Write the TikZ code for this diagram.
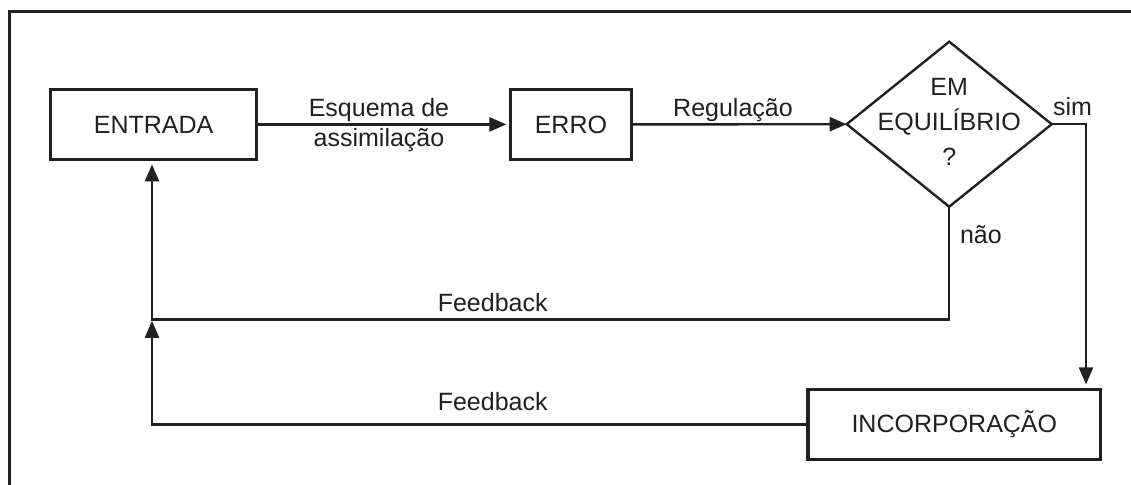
\documentclass[tikz,border=0pt]{standalone}
\usepackage{fontspec}
\setmainfont{Liberation Sans}
\usetikzlibrary{arrows.meta,shapes.geometric}
\definecolor{ink}{HTML}{231F20}
\begin{document}
\begin{tikzpicture}[x=1pt,y=-1pt,
  every node/.style={font=\fontsize{25pt}{30pt}\selectfont, text=ink},
  box/.style={draw=ink, line width=3.1pt, rectangle, minimum height=70pt, inner sep=0pt, outer sep=0pt},
  decision/.style={draw=ink, line width=2.4pt, diamond, minimum width=205pt, minimum height=165pt,
                   inner xsep=-90pt, inner ysep=-60pt, outer sep=0pt, align=center,
                   font=\fontsize{25pt}{35pt}\selectfont},
  conn/.style={draw=ink, line width=2.4pt},
  arr/.style={conn, -{Triangle[length=17pt,width=14pt]}},
  lbl/.style={inner sep=0pt, outer sep=0pt}
]
\useasboundingbox (0,0) rectangle (1131,484);
% frame (open at right and bottom)
\draw[ink, line width=3pt] (9.3,495) -- (9.3,11.7) -- (1140,11.7);

% nodes
\node[box, minimum width=206pt] (entrada) at (153.6,124.4) {ENTRADA};
\node[box, minimum width=121pt] (erro) at (570.9,124.4) {ERRO};
\node[decision] (eq) at (949.2,124.2) {EM\\EQUILÍBRIO\\?\rule[-3.7pt]{0pt}{0pt}};
\node[box, minimum width=292.6pt] (inc) at (954.3,424.4) {INCORPORAÇÃO};

% helper coordinates
\coordinate (sc) at (1086,124.2);
\coordinate (j1) at (152,319.3);
\coordinate (j2) at (152,424.4);

% connectors
\draw[arr, shorten >=4pt] (entrada.east) -- (erro.west);
\draw[arr] (erro.east) -- (eq.west);
\draw[arr, shorten >=5pt] (eq.east) -- (sc) -- (sc |- inc.north);
\draw[arr, shorten >=5pt] (eq.south) |- (j1) -- (j1 |- entrada.south);
\draw[arr, shorten >=1.5pt] (inc.west) -- (j2) -- (j1);

% labels
\node[lbl, align=center] (esq) at (379,125.5) {Esquema de\\assimilação};
\node[lbl, anchor=base] (reg) at (733,117) {Regulação};
\node[lbl, anchor=base west] (sim) at (1053,115) {sim};
\node[lbl, anchor=base west] (nao) at (960,243) {não};
\node[lbl, anchor=base] (fb1) at (492.7,311.7) {Feedback};
\node[lbl, anchor=base] (fb2) at (492.7,410.7) {Feedback};
\end{tikzpicture}
\end{document}
